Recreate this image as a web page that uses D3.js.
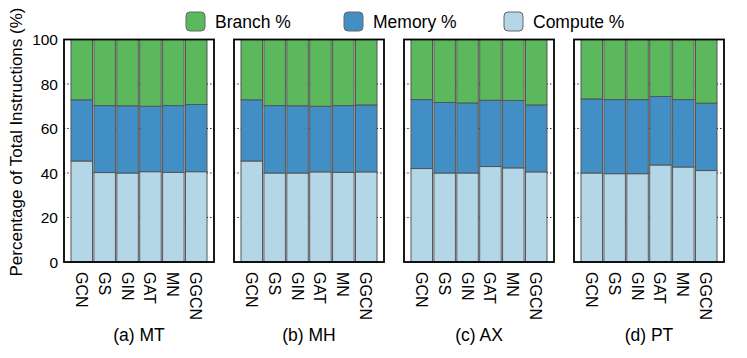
<!DOCTYPE html>
<html>
<head>
<meta charset="utf-8">
<script src="https://cdn.jsdelivr.net/npm/d3@7"></script>
<style>
  body { margin: 0; background: #fff; }
  svg { font-family: "Liberation Sans", Arial, sans-serif; }
</style>
</head>
<body>
<div id="chart"></div>
<script>
// Categories and data
const models = ["GCN", "GS", "GIN", "GAT", "MN", "GGCN"];
const panels = ["(a) MT", "(b) MH", "(c) AX", "(d) PT"];
const series = ["Branch %", "Memory %", "Compute %"];
const colors = ["#5cb85c", "#428fc5", "#b4d7e8"];

// Compute % per panel
const computePct = [
    [45.4, 40.2, 40.0, 40.6, 40.3, 40.6],
    [45.4, 40.0, 40.0, 40.5, 40.3, 40.5],
    [42.0, 40.0, 40.0, 42.9, 42.3, 40.5],
    [40.0, 39.7, 39.7, 43.6, 42.7, 41.1]
];
// Memory % per panel
const memoryPct = [
    [27.5, 30.1, 30.2, 29.4, 30.0, 30.2],
    [27.5, 30.3, 30.2, 29.5, 30.0, 30.1],
    [31.0, 31.7, 31.5, 29.8, 30.3, 30.1],
    [33.3, 33.3, 33.3, 30.8, 30.3, 30.3]
];
const yTicks = [0, 20, 40, 60, 80, 100];

const W = 747, H = 358;
const svg = d3.select("#chart").append("svg")
    .attr("width", W).attr("height", H);

const panelX = [64, 234, 404, 574];
const panelW = 150;
const plotTop = 39.5, plotBottom = 262;

const y = d3.scaleLinear().domain([0, 100]).range([plotBottom, plotTop]);

panels.forEach((title, p) => {
    const g = svg.append("g").attr("transform", `translate(${panelX[p]},0)`);
    const x = d3.scaleBand().domain(models).range([7, panelW - 7]).paddingInner(0.06).paddingOuter(0);

    // dotted gridlines (only visible between bars)
    g.selectAll(".grid").data(yTicks.filter(t => t > 0 && t < 100)).join("line")
        .attr("x1", 0).attr("x2", panelW)
        .attr("y1", d => y(d)).attr("y2", d => y(d))
        .attr("stroke", "#000").attr("stroke-width", 1.2)
        .attr("stroke-dasharray", "1.2,2.2");

    // stacked rows: compute, memory, branch
    const rows = models.map((m, i) => {
        const c = computePct[p][i], mem = memoryPct[p][i];
        return { m, segs: [
            { s: 2, y0: 0, y1: c },
            { s: 1, y0: c, y1: c + mem },
            { s: 0, y0: c + mem, y1: 100 }
        ]};
    });

    const bars = g.selectAll(".bar").data(rows).join("g");
    bars.selectAll("rect").data(d => d.segs.map(s => ({ ...s, m: d.m }))).join("rect")
        .attr("x", d => x(d.m))
        .attr("width", x.bandwidth())
        .attr("y", d => y(d.y1))
        .attr("height", d => y(d.y0) - y(d.y1))
        .attr("fill", d => colors[d.s])
        .attr("stroke", "#555")
        .attr("stroke-width", 1);

    // frame
    g.append("rect")
        .attr("x", 0).attr("y", plotTop).attr("width", panelW).attr("height", plotBottom - plotTop)
        .attr("fill", "none").attr("stroke", "#000").attr("stroke-width", 1.8);

    // x labels, rotated
    g.selectAll(".xl").data(models).join("text")
        .attr("transform", d => `translate(${x(d) + x.bandwidth() / 2 - 6},${plotBottom + 10}) rotate(90)`)
        .attr("font-size", 16)
        .attr("text-anchor", "start")
        .text(d => d);

    g.append("text")
        .attr("x", panelW / 2).attr("y", 341)
        .attr("text-anchor", "middle")
        .attr("font-size", 17.5)
        .text(title);

    if (p === 0) {
        g.selectAll(".yl").data(yTicks).join("text")
            .attr("x", -6).attr("y", d => y(d))
            .attr("text-anchor", "end")
            .attr("dominant-baseline", "central")
            .attr("font-size", 15.5)
            .text(d => d);
    }
});

// y-axis title
svg.append("text")
    .attr("transform", `translate(22,142) rotate(-90)`)
    .attr("text-anchor", "middle")
    .attr("font-size", 17)
    .text("Percentage of Total Instructions (%)");

// legend
const legendX = [186, 344, 504];
series.forEach((s, i) => {
    svg.append("rect")
        .attr("x", legendX[i]).attr("y", 12).attr("width", 19).attr("height", 19)
        .attr("rx", 4)
        .attr("fill", colors[i]).attr("stroke", "#666").attr("stroke-width", 1);
    svg.append("text")
        .attr("x", legendX[i] + 29).attr("y", 28)
        .attr("font-size", 17.5)
        .text(s);
});
</script>
</body>
</html>
